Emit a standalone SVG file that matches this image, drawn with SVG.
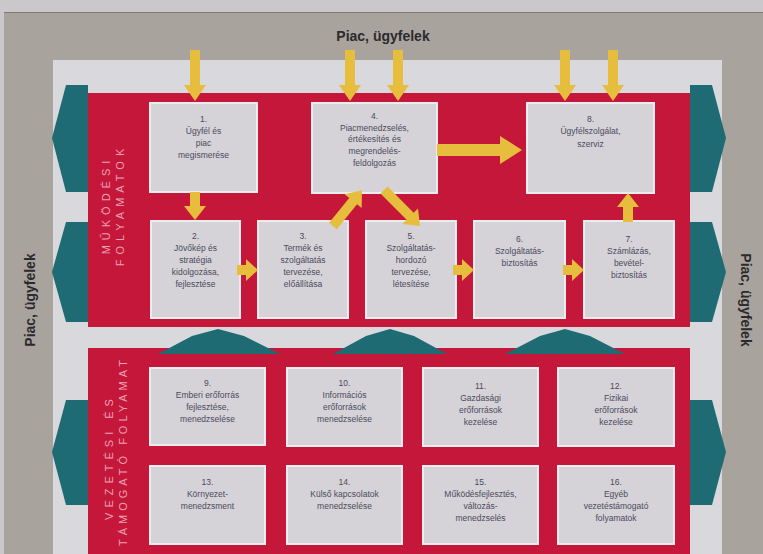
<svg xmlns="http://www.w3.org/2000/svg" width="763" height="554" viewBox="0 0 763 554">
<defs>
<style>
.box{fill:#d5d3d8;stroke:#ecebee;stroke-width:2}
.t{font-family:"Liberation Sans",Arial,sans-serif;font-size:8.5px;fill:#4a4a5c;text-anchor:middle}
.ya{fill:#e6bd3c}
.teal{fill:#1e6b74}
.red{fill:#c5173a}
.side{font-family:"Liberation Sans",Arial,sans-serif;font-size:11px;fill:#eaa2b4;letter-spacing:5px;text-anchor:middle}
.mk{font-family:"Liberation Sans",Arial,sans-serif;font-size:14px;font-weight:bold;fill:#2b2a2c;text-anchor:middle}
</style>
</defs>
<rect x="0" y="0" width="763" height="554" fill="#cbc8cb"/>
<rect x="4" y="12" width="759" height="542" fill="#a9a39e"/>
<line x1="4" y1="12.5" x2="763" y2="12.5" stroke="#7e7975" stroke-width="1"/>
<rect x="53" y="60" width="669" height="494" fill="#d9d8dc"/>
<text class="mk" x="383" y="41">Piac, ügyfelek</text>
<text class="mk" transform="translate(35,300) rotate(-90)">Piac, ügyfelek</text>
<text class="mk" transform="translate(741,300) rotate(90)">Piac, ügyfelek</text>
<g id="side-arrows">
<polygon class="teal" points="88,85 66,85 52,138 66,192 88,192"/>
<polygon class="teal" points="88,222 66,222 52,272 66,322 88,322"/>
<polygon class="teal" points="88,400 66,400 52,452 66,505 88,505"/>
<polygon class="teal" points="690,85 712,85 726,138 712,192 690,192"/>
<polygon class="teal" points="690,222 712,222 726,272 712,322 690,322"/>
<polygon class="teal" points="690,400 712,400 726,452 712,505 690,505"/>
</g>
<g id="panel-operations">
<rect class="red" x="88" y="93" width="602" height="234"/>
<text class="side" transform="translate(110,205) rotate(-90)">MŰKÖDÉSI</text>
<text class="side" transform="translate(124,205) rotate(-90)">FOLYAMATOK</text>
</g>
<g id="panel-support">
<rect class="red" x="88" y="348" width="602" height="206"/>
<text class="side" transform="translate(113,457) rotate(-90)">VEZETÉSI ÉS</text>
<text class="side" style="text-anchor:end;letter-spacing:4px" transform="translate(127,356) rotate(-90)">TÁMOGATÓ FOLYAMAT</text>
</g>
<g id="up-arrows">
<polygon class="teal" points="158,354 192,336 218,329 244,336 280,354"/>
<polygon class="teal" points="333,354 366,336 390,329 414,336 447,354"/>
<polygon class="teal" points="505,354 540,336 565,329 590,336 625,354"/>
</g>
<g id="n1"><rect class="box" x="150" y="103" width="107" height="89"/>
<text class="t" x="203.5"><tspan x="203.5" y="122">1.</tspan><tspan x="203.5" y="134">Ügyfél és</tspan><tspan x="203.5" y="146">piac</tspan><tspan x="203.5" y="158">megismerése</tspan></text></g>
<g id="n4"><rect class="box" x="312" y="103" width="125" height="90"/>
<text class="t"><tspan x="374.5" y="119">4.</tspan><tspan x="374.5" y="131">Piacmenedzselés,</tspan><tspan x="374.5" y="142">értékesítés és</tspan><tspan x="374.5" y="154">megrendelés-</tspan><tspan x="374.5" y="166">feldolgozás</tspan></text></g>
<g id="n8"><rect class="box" x="527" y="103" width="127" height="90"/>
<text class="t"><tspan x="590.5" y="122">8.</tspan><tspan x="590.5" y="134">Ügyfélszolgálat,</tspan><tspan x="590.5" y="147">szerviz</tspan></text></g>
<g id="n2"><rect class="box" x="151" y="221" width="89" height="97"/>
<text class="t"><tspan x="195.5" y="239">2.</tspan><tspan x="195.5" y="251">Jövőkép és</tspan><tspan x="195.5" y="263">stratégia</tspan><tspan x="195.5" y="275">kidolgozása,</tspan><tspan x="195.5" y="287">fejlesztése</tspan></text></g>
<g id="n3"><rect class="box" x="258" y="221" width="90" height="97"/>
<text class="t"><tspan x="303" y="239">3.</tspan><tspan x="303" y="251">Termék és</tspan><tspan x="303" y="263">szolgáltatás</tspan><tspan x="303" y="275">tervezése,</tspan><tspan x="303" y="287">előállítása</tspan></text></g>
<g id="n5"><rect class="box" x="366" y="221" width="90" height="97"/>
<text class="t"><tspan x="411" y="239">5.</tspan><tspan x="411" y="251">Szolgáltatás-</tspan><tspan x="411" y="263">hordozó</tspan><tspan x="411" y="275">tervezése,</tspan><tspan x="411" y="287">létesítése</tspan></text></g>
<g id="n6"><rect class="box" x="474" y="221" width="91" height="97"/>
<text class="t"><tspan x="519.5" y="242">6.</tspan><tspan x="519.5" y="254">Szolgáltatás-</tspan><tspan x="519.5" y="266">biztosítás</tspan></text></g>
<g id="n7"><rect class="box" x="584" y="221" width="90" height="97"/>
<text class="t"><tspan x="629" y="242">7.</tspan><tspan x="629" y="254">Számlázás,</tspan><tspan x="629" y="266">bevétel-</tspan><tspan x="629" y="278">biztosítás</tspan></text></g>
<g id="n9"><rect class="box" x="150" y="368" width="115" height="77"/>
<text class="t"><tspan x="207.5" y="386">9.</tspan><tspan x="207.5" y="398">Emberi erőforrás</tspan><tspan x="207.5" y="410">fejlesztése,</tspan><tspan x="207.5" y="422">menedzselése</tspan></text></g>
<g id="n10"><rect class="box" x="287" y="368" width="115" height="78"/>
<text class="t"><tspan x="344.5" y="386">10.</tspan><tspan x="344.5" y="398">Információs</tspan><tspan x="344.5" y="410">erőforrások</tspan><tspan x="344.5" y="422">menedzselése</tspan></text></g>
<g id="n11"><rect class="box" x="423" y="368" width="115" height="78"/>
<text class="t"><tspan x="480.5" y="389">11.</tspan><tspan x="480.5" y="401">Gazdasági</tspan><tspan x="480.5" y="413">erőforrások</tspan><tspan x="480.5" y="425">kezelése</tspan></text></g>
<g id="n12"><rect class="box" x="558" y="368" width="116" height="78"/>
<text class="t"><tspan x="616" y="389">12.</tspan><tspan x="616" y="401">Fizikai</tspan><tspan x="616" y="413">erőforrások</tspan><tspan x="616" y="425">kezelése</tspan></text></g>
<g id="n13"><rect class="box" x="150" y="466" width="115" height="78"/>
<text class="t"><tspan x="207.5" y="485">13.</tspan><tspan x="207.5" y="497">Környezet-</tspan><tspan x="207.5" y="509">menedzsment</tspan></text></g>
<g id="n14"><rect class="box" x="287" y="466" width="115" height="78"/>
<text class="t"><tspan x="344.5" y="485">14.</tspan><tspan x="344.5" y="497">Külső kapcsolatok</tspan><tspan x="344.5" y="509">menedzselése</tspan></text></g>
<g id="n15"><rect class="box" x="423" y="466" width="115" height="78"/>
<text class="t"><tspan x="480.5" y="485">15.</tspan><tspan x="480.5" y="497">Működésfejlesztés,</tspan><tspan x="480.5" y="509">változás-</tspan><tspan x="480.5" y="521">menedzselés</tspan></text></g>
<g id="n16"><rect class="box" x="558" y="466" width="116" height="78"/>
<text class="t"><tspan x="616" y="485">16.</tspan><tspan x="616" y="497">Egyéb</tspan><tspan x="616" y="509">vezetéstámogató</tspan><tspan x="616" y="521">folyamatok</tspan></text></g>
<g id="connectors">
<polygon class="ya" points="190,50 200,50 200,85 206,85 195,101 184,85 190,85"/>
<polygon class="ya" points="345,50 355,50 355,85 361,85 350,101 339,85 345,85"/>
<polygon class="ya" points="393,50 403,50 403,85 409,85 398,101 387,85 393,85"/>
<polygon class="ya" points="560,50 570,50 570,85 576,85 565,101 554,85 560,85"/>
<polygon class="ya" points="608,50 618,50 618,85 624,85 613,101 602,85 608,85"/>
<polygon class="ya" points="190,192 200,192 200,206 206,206 195,220 184,206 190,206"/>
<polygon class="ya" points="237,265 246,265 246,259 258,270 246,281 246,275 237,275"/>
<polygon class="ya" points="453,265 462,265 462,259 474,270 462,281 462,275 453,275"/>
<polygon class="ya" points="563,265 572,265 572,259 584,270 572,281 572,275 563,275"/>
<polygon class="ya" points="623,222 633,222 633,207 639,207 628,193 617,207 623,207"/>
<polygon class="ya" points="437,144 500,144 500,136 522,150 500,164 500,156 437,156"/>
<polygon class="ya" transform="translate(333,226) rotate(-51)" points="0,-5 32,-5 32,-11 46,0 32,11 32,5 0,5"/>
<polygon class="ya" transform="translate(384,190) rotate(45)" points="0,-5 37,-5 37,-11 51,0 37,11 37,5 0,5"/>
</g>
</svg>
